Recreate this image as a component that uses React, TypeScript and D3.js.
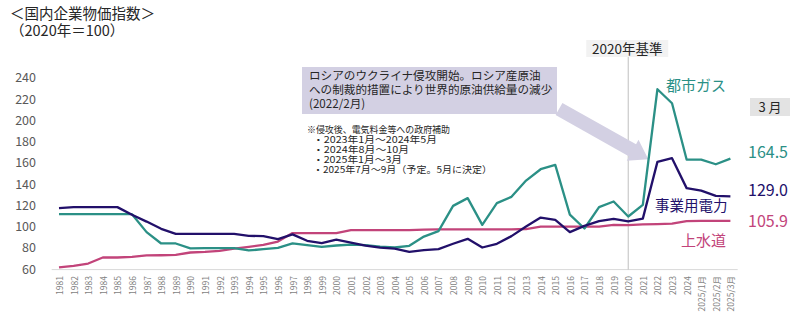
import React from "react";
import * as d3 from "d3";

const categories = [
  "1981","1982","1983","1984","1985","1986","1987","1988","1989","1990",
  "1991","1992","1993","1994","1995","1996","1997","1998","1999","2000",
  "2001","2002","2003","2004","2005","2006","2007","2008","2009","2010",
  "2011","2012","2013","2014","2015","2016","2017","2018","2019","2020",
  "2021","2022","2023","2024","2025/1月","2025/2月","2025/3月",
];

const cityGas = [
  112.2, 112.2, 112.2, 112.2, 112.2, 112.2, 95.3, 84.6, 84.6, 80,
  80.2, 80.2, 80.2, 78, 79.3, 80.5, 84.6, 83, 81.4, 82.7,
  83.6, 83, 81.7, 80.8, 82.4, 91.1, 96.2, 120, 127.3, 102.1,
  122.6, 128.5, 143.8, 154.5, 158.6, 111.8, 98.7, 118.8, 124.1, 110,
  121, 229.8, 216.6, 163.6, 163.6, 159.2, 164.5,
];

const electricity = [
  117.9, 118.8, 118.8, 118.8, 118.8, 111.6, 105.2, 98.4, 93.7, 93.7,
  93.7, 93.7, 93.7, 91.8, 91.5, 88.7, 93.2, 87.1, 84.9, 88.2,
  85.5, 82.6, 80.7, 79.8, 76.6, 78.4, 79.3, 84.3, 89, 80.8,
  84.3, 91.5, 100.5, 109, 106.8, 95.3, 101.2, 105.6, 107.8, 105.5,
  108, 161.4, 164.9, 136.7, 134.4, 129.4, 129.0,
];

const water = [
  62, 63.6, 65.7, 71.4, 71.4, 72, 73.3, 73.5, 73.9, 76.1,
  76.7, 77.7, 79.8, 81.4, 83.3, 86.4, 94.4, 94.4, 94.4, 94.4,
  97.2, 97.2, 97.2, 97.2, 97.2, 97.6, 97.9, 97.9, 97.9, 97.9,
  97.9, 97.9, 98.2, 100.5, 100.5, 100.5, 100.5, 100.5, 102.1, 101.9,
  102.5, 102.8, 103.2, 105.6, 105.9, 105.9, 105.9,
];

const yTicks = [60, 80, 100, 120, 140, 160, 180, 200, 220, 240];

const seriesNames = ["都市ガス", "事業用電力", "上水道"];
const lastValues = ["164.5", "129.0", "105.9"];

const titleLines = ["＜国内企業物価指数＞", "（2020年＝100）"];
const calloutLines = [
  "ロシアのウクライナ侵攻開始。ロシア産原油",
  "への制裁的措置により世界的原油供給量の減少",
  "(2022/2月)",
];
const noteLines = [
  "※侵攻後、電気料金等への政府補助",
  "・2023年1月～2024年5月",
  "・2024年8月～10月",
  "・2025年1月～3月",
  "・2025年7月～9月（予定。5月に決定）",
];
const noteWidths = [143, 124, 96, 89, 179];

const TEAL = "#2b9086";
const NAVY = "#22106a";
const PINK = "#c2447a";
const FONT = "'Noto Sans CJK JP', 'Noto Sans', sans-serif";

export default function App() {
  const W = 800;
  const H = 315;
  const x = d3.scalePoint<string>().domain(categories).range([51.7, 737.7]).padding(0.5);
  const y = d3.scaleLinear().domain([60, 240]).range([269.6, 78.4]);

  const line = d3
    .line<number>()
    .x((_, i) => x(categories[i]) as number)
    .y((d) => y(d));

  const x2020 = x("2020") as number;

  // callout arrow
  const sx = 559, sy = 109;
  const tx = (x("2021") as number) + 5.5;
  const ty = y(164);
  const dx = tx - sx, dy = ty - sy;
  const len = Math.hypot(dx, dy);
  const ux = dx / len, uy = dy / len;
  const px = -uy, py = ux;
  const hw = 7, headLen = 18, headW = 12;
  const bx = tx - ux * headLen, by = ty - uy * headLen;
  const arrowPts = [
    [sx + px * hw, sy + py * hw],
    [bx + px * hw, by + py * hw],
    [bx + px * headW, by + py * headW],
    [tx, ty],
    [bx - px * headW, by - py * headW],
    [bx - px * hw, by - py * hw],
    [sx - px * hw, sy - py * hw],
  ]
    .map((p) => p.join(","))
    .join(" ");

  return (
    <svg
      width={W}
      height={H}
      style={{ position: "absolute", left: 0, top: 0, background: "#fff" }}
      fontFamily={FONT}
    >
      {/* title */}
      {titleLines.map((t, i) => (
        <text key={t} x={10} y={18.5 + i * 17.5} fontSize={14.5} fill="#262626">
          {t}
        </text>
      ))}

      {/* y axis labels */}
      {yTicks.map((t) => (
        <text
          key={t}
          x={36}
          y={y(t) - 1.5}
          fontSize={12.5}
          fill="#595959"
          textAnchor="end"
          dominantBaseline="central"
        >
          {t}
        </text>
      ))}

      {/* x axis baseline */}
      <line x1={51.7} x2={737.7} y1={y(60)} y2={y(60)} stroke="#d9d9d9" strokeWidth={1} />

      {/* x labels */}
      {categories.map((c) => (
        <text
          key={c}
          transform={`translate(${x(c)},276) rotate(-90)`}
          fontSize={8.5}
          fill="#7f7f7f"
          textAnchor="end"
          dominantBaseline="central"
        >
          {c}
        </text>
      ))}

      {/* 2020 reference line */}
      <line x1={x2020} x2={x2020} y1={57} y2={y(60)} stroke="#bfbfbf" strokeWidth={1} />
      <rect x={x2020 - 42} y={40} width={82} height={17} fill="#f2f2f2" />
      <text x={x2020 - 1} y={53.5} fontSize={13.5} fill="#262626" textAnchor="middle">
        2020年基準
      </text>

      {/* callout */}
      <rect x={302} y={67} width={255} height={47} fill="#d3d0e3" />
      <polygon points={arrowPts} fill="#d3d0e3" />
      {calloutLines.map((t, i) => (
        <text key={t} x={309} y={79.5 + i * 14.2} fontSize={11.6} fill="#262626">
          {t}
        </text>
      ))}
      {noteLines.map((t, i) => (
        <text
          key={t}
          x={i === 0 ? 307 : 313}
          y={132.5 + i * 10.1}
          fontSize={9.6}
          fill="#262626"
          textLength={noteWidths[i]}
          lengthAdjust="spacingAndGlyphs"
        >
          {t}
        </text>
      ))}

      {/* series */}
      <path d={line(water) || ""} fill="none" stroke={PINK} strokeWidth={2.3} strokeLinejoin="round" />
      <path d={line(cityGas) || ""} fill="none" stroke={TEAL} strokeWidth={2.3} strokeLinejoin="round" />
      <path d={line(electricity) || ""} fill="none" stroke={NAVY} strokeWidth={2.3} strokeLinejoin="round" />

      {/* series labels */}
      <text x={666} y={90.5} fontSize={15} fill={TEAL}>{seriesNames[0]}</text>
      <text x={655} y={211} fontSize={14.5} fill={NAVY}>{seriesNames[1]}</text>
      <text x={681} y={245.5} fontSize={15} fill={PINK}>{seriesNames[2]}</text>

      {/* last month values */}
      <rect x={750} y={98} width={40} height={18} fill="#e3e3e3" />
      <text x={770} y={111.5} fontSize={13} fill="#262626" textAnchor="middle">3 月</text>
      <text x={748} y={158} fontSize={16} fill={TEAL}>{lastValues[0]}</text>
      <text x={748} y={195.5} fontSize={16} fill={NAVY}>{lastValues[1]}</text>
      <text x={748} y={227} fontSize={16} fill={PINK}>{lastValues[2]}</text>
    </svg>
  );
}
